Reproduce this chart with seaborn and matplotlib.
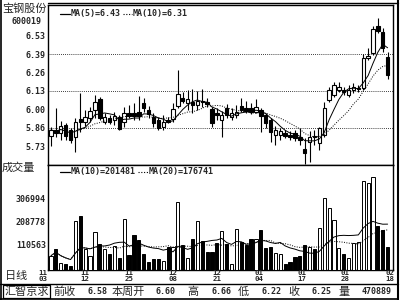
import numpy as np
import pandas as pd
import matplotlib
matplotlib.use("Agg")
import matplotlib.pyplot as plt
import matplotlib.transforms as mtransforms
import seaborn as sns
from matplotlib.lines import Line2D
from matplotlib.patches import Rectangle

# ---------------- data ----------------
opens = [5.806, 5.850, 5.830, 5.886, 5.850, 5.797, 5.927, 5.910, 5.935, 5.995,
         6.073, 5.910, 5.935, 5.922, 5.942, 5.910, 5.975, 5.973, 5.983, 6.044,
         5.995, 5.946, 5.919, 5.874, 5.922, 5.927, 6.024, 6.084, 6.048, 6.055,
         6.031, 6.063, 6.055, 6.000, 5.975, 5.922, 6.007, 5.946, 5.959, 6.024,
         6.007, 6.007, 5.983, 5.995, 5.959, 5.922, 5.813, 5.813, 5.826, 5.813,
         5.826, 5.801, 5.709, 5.765, 5.803, 5.753, 5.813, 6.068, 6.104, 6.140,
         6.140, 6.104, 6.140, 6.145, 6.153, 6.371, 6.407, 6.608, 6.564, 6.382]
highs = [5.874, 6.009, 5.917, 5.898, 5.864, 5.937, 6.116, 5.995, 6.019, 6.104,
         6.089, 5.973, 5.959, 5.980, 5.959, 6.019, 6.031, 6.046, 6.097, 6.082,
         6.024, 5.973, 5.944, 5.959, 5.944, 6.044, 6.286, 6.128, 6.140, 6.145,
         6.135, 6.145, 6.080, 6.019, 6.009, 5.988, 6.039, 6.009, 6.031, 6.080,
         6.060, 6.046, 6.073, 6.009, 5.973, 5.937, 5.879, 5.864, 5.850, 5.842,
         5.850, 5.866, 5.789, 5.842, 5.850, 5.874, 6.055, 6.164, 6.201, 6.201,
         6.164, 6.177, 6.189, 6.177, 6.400, 6.448, 6.608, 6.661, 6.589, 6.419]
lows = [5.733, 5.799, 5.777, 5.777, 5.755, 5.692, 5.837, 5.879, 5.910, 5.937,
        5.922, 5.893, 5.893, 5.886, 5.850, 5.874, 5.937, 5.922, 5.922, 5.980,
        5.937, 5.874, 5.850, 5.850, 5.900, 5.910, 6.007, 6.044, 5.995, 5.971,
        5.995, 6.020, 6.020, 5.874, 5.922, 5.801, 5.937, 5.922, 5.937, 5.980,
        5.973, 5.966, 5.973, 5.835, 5.864, 5.759, 5.741, 5.777, 5.791, 5.777,
        5.770, 5.741, 5.600, 5.619, 5.741, 5.704, 5.801, 6.055, 6.089, 6.126,
        6.104, 6.092, 6.116, 6.128, 6.140, 6.358, 6.395, 6.552, 6.419, 6.218]
closes = [5.850, 5.828, 5.881, 5.806, 5.777, 5.910, 5.910, 5.942, 5.988, 6.055,
          5.935, 5.946, 5.910, 5.951, 5.855, 5.975, 5.951, 5.951, 5.951, 6.007,
          5.966, 5.898, 5.862, 5.910, 5.910, 6.000, 6.109, 6.063, 6.073, 6.031,
          6.063, 6.050, 6.039, 5.898, 5.959, 5.959, 5.959, 5.975, 5.983, 5.995,
          5.990, 5.983, 6.015, 5.953, 5.900, 5.835, 5.850, 5.842, 5.808, 5.801,
          5.794, 5.777, 5.680, 5.801, 5.801, 5.862, 6.012, 6.140, 6.177, 6.164,
          6.124, 6.140, 6.164, 6.157, 6.375, 6.390, 6.584, 6.569, 6.443, 6.249]
volumes = [62000, 91000, 32000, 24000, 16000, 213000, 234000, 90000, 61000, 163000,
           113000, 92000, 71000, 105000, 52000, 221000, 64000, 149000, 130000, 71000,
           34000, 49000, 49000, 38000, 98000, 100000, 293000, 108000, 52000, 133000,
           213000, 124000, 77000, 77000, 117000, 170000, 114000, 27000, 178000, 119000,
           110000, 134000, 134000, 173000, 95000, 101000, 74000, 71000, 27000, 34000,
           57000, 62000, 108000, 100000, 89000, 181000, 310000, 267000, 214000, 95000,
           70000, 52000, 117000, 119000, 386000, 375000, 403000, 188000, 171000, 98000]

date_pos = [-1.6, 7, 16, 25, 34, 42.6, 51.5, 60.2, 69.4]
date_labels = ["11\n03", "11\n12", "11\n25", "12\n08", "12\n21",
               "01\n04", "01\n17", "01\n28", "02\n18"]
price_ticks = [5.733, 5.867, 6.000, 6.133, 6.267, 6.400, 6.533]
price_tick_labels = ["5.73", "5.86", "6.00", "6.13", "6.26", "6.39", "6.53"]
price_grid = [5.867, 6.133, 6.400]
vol_ticks = [110563, 208778, 306994]
vol_tick_labels = ["110563", "208778", "306994"]

# ---------------- setup ----------------
sns.set_style("white")
plt.rcParams['font.family'] = ['Noto Sans CJK SC', 'DejaVu Sans']
MONO = 'DejaVu Sans Mono'
CJK = 'Noto Sans CJK SC'

W, H = 400, 300
fig = plt.figure(figsize=(4, 3), dpi=100)
fig.patch.set_facecolor('white')

def fx(x):
    return x / W

def fy(y):
    return 1 - y / H

AX_L, AX_R = 48, 393
P_TOP, P_BOT = 5, 165
V_BOT = 270

axp = fig.add_axes([fx(AX_L), fy(P_BOT), (AX_R - AX_L) / W, (P_BOT - P_TOP) / H])
axv = fig.add_axes([fx(AX_L), fy(V_BOT), (AX_R - AX_L) / W, (V_BOT - P_BOT) / H])

df = pd.DataFrame({"open": opens, "high": highs, "low": lows,
                   "close": closes, "vol": volumes})
df["i"] = np.arange(len(df))
df["dir"] = np.where(df["close"] >= df["open"], "up", "down")
df["ma5"] = df["close"].rolling(5, min_periods=1).mean()
df["ma10"] = df["close"].rolling(10, min_periods=1).mean()
df["vma10"] = df["vol"].rolling(10, min_periods=1).mean()
df["vma20"] = df["vol"].rolling(20, min_periods=1).mean()

XMIN, XMAX = -0.62, 70.1
DOT = (0, (1, 1.5))

# ---------------- price panel ----------------
for g in price_grid:
    axp.axhline(g, color='black', lw=0.6, ls=DOT, zorder=0)
axp.vlines(df["i"], df["low"], df["high"], color='black', lw=0.8, zorder=2)
body_bottom = np.minimum(df["open"], df["close"])
body_h = np.abs(df["close"] - df["open"])
face = ['white' if d == 'up' else 'black' for d in df["dir"]]
axp.bar(df["i"], body_h, bottom=body_bottom, width=0.7, color=face,
        edgecolor='black', linewidth=0.8, zorder=3)
sns.lineplot(data=df, x="i", y="ma5", ax=axp, color='black', lw=0.7, zorder=4)
sns.lineplot(data=df, x="i", y="ma10", ax=axp, color='black', lw=0.7, ls=DOT, zorder=4)
axp.set_xlim(XMIN, XMAX)
axp.set_ylim(5.595, 6.758)
axp.set_yticks(price_ticks)
axp.set_yticklabels(price_tick_labels, fontfamily=MONO, fontweight='bold', fontsize=6)
axp.set_xticks([])
axp.set_xlabel("")
axp.set_ylabel("")
axp.tick_params(axis='y', length=0, pad=1.6)
for s in axp.spines.values():
    s.set_color('black')
    s.set_linewidth(1.0)

# ---------------- volume panel ----------------
sns.barplot(data=df, x="i", y="vol", hue="dir",
            palette={"up": "white", "down": "black"}, native_scale=True,
            width=0.65, dodge=False, edgecolor='black', linewidth=0.7,
            errorbar=None, legend=False, ax=axv, zorder=3)
sns.lineplot(data=df, x="i", y="vma10", ax=axv, color='black', lw=0.7, zorder=4)
sns.lineplot(data=df, x="i", y="vma20", ax=axv, color='black', lw=0.7, ls=DOT, zorder=4)
axv.set_xlim(XMIN, XMAX)
axv.set_ylim(0, 453000)
axv.set_yticks(vol_ticks)
axv.set_yticklabels(vol_tick_labels, fontfamily=MONO, fontweight='bold', fontsize=6)
axv.set_xticks([])
axv.set_xlabel("")
axv.set_ylabel("")
axv.tick_params(axis='y', length=0, pad=1.6)
for s in axv.spines.values():
    s.set_color('black')
    s.set_linewidth(1.0)

# date labels below the volume panel (data x, pixel y)
trans = mtransforms.blended_transform_factory(axv.transData, fig.transFigure)
for p, lab in zip(date_pos, date_labels):
    axv.text(p, fy(276.3), lab, transform=trans, fontfamily=MONO, fontweight='bold',
             fontsize=5.3, linespacing=0.95, ha='center', va='center', clip_on=False)

# ---------------- frame & texts ----------------
def hline(x0, x1, y, lw=1.0, ls='-'):
    fig.add_artist(Line2D([fx(x0), fx(x1)], [fy(y), fy(y)], color='black', lw=lw, ls=ls))

def vline(x, y0, y1, lw=1.0):
    fig.add_artist(Line2D([fx(x), fx(x)], [fy(y0), fy(y1)], color='black', lw=lw))

vline(1, 0, 300, lw=1.2)
vline(397.5, 0, 300, lw=1.5)
hline(AX_L, 398, 2.5, lw=1.0)
hline(0, 398, 283.5, lw=1.0)
hline(0, 398, 299, lw=1.2)
fig.add_artist(Rectangle((fx(3), fy(298)), fx(50) - fx(3), fy(285) - fy(298),
                         transform=fig.transFigure, fill=False, edgecolor='black', lw=0.9))

fig.text(fx(2), fy(9), "宝钢股份", fontfamily=CJK, fontsize=8, va='center', ha='left')
fig.text(fx(26), fy(21.8), "600019", fontfamily=MONO, fontweight='bold', fontsize=6,
         va='center', ha='center')
fig.text(fx(2), fy(168), "成交量", fontfamily=CJK, fontsize=8, va='center', ha='left')
fig.text(fx(5), fy(276.5), "日线", fontfamily=CJK, fontsize=8, va='center', ha='left')

# price legend
hline(60, 70, 13.7, lw=0.9)
fig.text(fx(71), fy(13.7), "MA(5)=6.43", fontfamily=MONO, fontweight='bold', fontsize=6,
         va='center', ha='left')
hline(123, 132, 13.7, lw=0.8, ls=DOT)
fig.text(fx(133), fy(13.7), "MA(10)=6.31", fontfamily=MONO, fontweight='bold', fontsize=6,
         va='center', ha='left')

# volume legend
hline(60, 70, 171.7, lw=0.9)
fig.text(fx(71), fy(171.7), "MA(10)=201481", fontfamily=MONO, fontweight='bold', fontsize=6,
         va='center', ha='left')
hline(138, 148, 171.7, lw=0.8, ls=DOT)
fig.text(fx(149), fy(171.7), "MA(20)=176741", fontfamily=MONO, fontweight='bold', fontsize=6,
         va='center', ha='left')

# status bar
sy = 291.5
fig.text(fx(26.5), fy(sy), "汇智京求", fontfamily=CJK, fontsize=8, va='center', ha='center')
status_items = [(53, "前收", CJK), (87, "6.58", MONO), (112, "本周开", CJK),
                (155, "6.60", MONO), (187, "高", CJK), (212, "6.66", MONO),
                (238, "低", CJK), (262, "6.22", MONO), (288, "收", CJK),
                (312, "6.25", MONO), (338, "量", CJK), (362, "470889", MONO)]
for x, t, fam in status_items:
    if fam == MONO:
        fig.text(fx(x), fy(sy), t, fontfamily=MONO, fontweight='bold', fontsize=6,
                 va='center', ha='left')
    else:
        fig.text(fx(x), fy(sy), t, fontfamily=CJK, fontsize=8, va='center', ha='left')

fig.savefig("out.png", dpi=100, facecolor='white')
